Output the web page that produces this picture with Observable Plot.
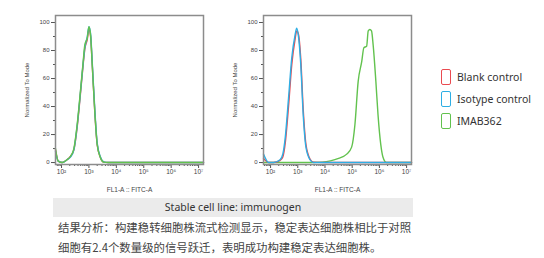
<!DOCTYPE html>
<html><head><meta charset="utf-8">
<script src="https://cdn.jsdelivr.net/npm/d3@7"></script>
<script src="https://cdn.jsdelivr.net/npm/@observablehq/plot@0.6"></script>
<style>
html,body{margin:0;padding:0;background:#fff}
body{width:544px;height:258px;position:relative;overflow:hidden;font-family:"Noto Sans",sans-serif}
.panel{position:absolute;top:0}
#p1{left:0}
#p2{left:208px}
#legend{position:absolute;left:441px;top:66px;font-family:"Noto Sans",sans-serif;font-size:10.5px;color:#333}
.item{display:flex;align-items:center;height:22px}
.box{width:8px;height:14px;border:1.5px solid;border-radius:2px;margin-right:6px;box-sizing:content-box}
#band{position:absolute;left:53px;top:198px;width:360px;height:19px;background:#ebebeb;color:#333;font-size:10.5px;line-height:19px;text-align:center;font-family:"Noto Sans",sans-serif}
#note{position:absolute;left:58px;top:218px;font-family:"Noto Sans CJK SC",sans-serif;font-size:11.4px;line-height:19.5px;color:#444;white-space:nowrap}
</style></head><body>
<div id="p1" class="panel"></div>
<div id="p2" class="panel"></div>
<div id="legend"></div>
<div id="band">Stable cell line: immunogen</div>
<div id="note">结果分析：构建稳转细胞株流式检测显示，稳定表达细胞株相比于对照<br>细胞有2.4个数量级的信号跃迁，表明成功构建稳定表达细胞株。</div>
<script>
// ---- data (x = log10 of FL1-A :: FITC-A intensity, y = % of mode) ----
const seriesNames = ["Blank control", "Isotype control", "IMAB362"];
const seriesColors = ["#ea4a50", "#2eaee4", "#62c24e"];
const xTickExps = [2, 3, 4, 5, 6, 7];
const yTickValues = [0, 20, 40, 60, 80, 100];

// Left panel: all three curves overlap
const leftX       = [1.78, 1.88, 2.03, 2.2, 2.33, 2.45, 2.57, 2.69, 2.78, 2.85, 2.94, 3.00, 3.06, 3.12, 3.22, 3.30, 3.42, 3.54, 3.7, 4.5, 5.5, 6.5, 7.18];
const leftBlank   = [9, 1, 0, 2, 4.5, 9, 25, 49, 68, 81, 88, 95, 90, 70, 34, 13, 3.5, 0.3, 0, 0, 0, 0, 0];
const leftIsotype = [8, 1, 0, 2, 4, 9, 26, 50, 69, 82, 90, 97, 92, 72, 36, 14, 4, 0.5, 0, 0, 0, 0, 0];
const leftImab    = [10, 1, 0, 2, 4.5, 10, 27, 51, 70, 84, 89, 97, 91, 70, 34, 13, 3.5, 0.3, 0, 0, 0, 0, 0];

// Right panel
const rightCtrlX     = [1.74, 1.93, 2.11, 2.35, 2.45, 2.54, 2.66, 2.78, 2.90, 2.96, 3.02, 3.11, 3.20, 3.30, 3.45, 3.57, 4.0, 5.0, 6.0, 7.18];
const rightBlank     = [3, 0, 0, 1.5, 4, 14, 40, 70, 88, 94, 92, 74, 38, 13, 2.5, 0.3, 0, 0, 0, 0];
const rightIsotype   = [6, 0, 0, 2, 6, 18, 46, 75, 91, 96, 91, 70, 34, 11, 2, 0, 0, 0, 0, 0];
const rightImabX     = [1.74, 2.5, 3.5, 3.9, 4.2, 4.5, 4.8, 4.98, 5.10, 5.22, 5.35, 5.43, 5.53, 5.59, 5.65, 5.71, 5.77, 5.87, 5.95, 6.05, 6.13, 6.26, 6.6, 7.18];
const rightImab      = [0, 0, 0, 0.3, 1.2, 3, 6, 11, 27, 58, 72, 82, 83, 94, 95, 94, 84, 58, 34, 13, 4, 0, 0, 0];

const sup = ["⁰","¹","²","³","⁴","⁵","⁶","⁷","⁸"];

function rows(xs, ys, name) { return xs.map((x, i) => ({x, y: ys[i], name})); }

function panel(xDomain, layers) {
  const minor = [];
  for (let n = 1; n <= 7; n++) for (let k = 2; k <= 9; k++) {
    const e = n + Math.log10(k);
    if (e > xDomain[0] && e < xDomain[1]) minor.push(e);
  }
  const yMinor = d3.range(0, 101, 10);
  const marks = [
    Plot.axisX({ticks: minor, tickSize: 2, tickFormat: () => "", stroke: "#555", label: null}),
    Plot.axisX({ticks: xTickExps, tickSize: 4, tickPadding: 1, tickFormat: d => "10" + sup[d], fontSize: 6.5, fill: "#444", stroke: "#555",
      label: "FL1-A :: FITC-A", labelAnchor: "center", labelOffset: 27, labelArrow: "none"}),
    Plot.axisY({ticks: yMinor, tickSize: 2, tickFormat: () => "", stroke: "#555", label: null}),
    Plot.axisY({ticks: yTickValues, tickSize: 4, tickPadding: 2, fontSize: 6, fill: "#444", stroke: "#555",
      label: "Normalized To Mode", labelAnchor: "center", labelOffset: 31, labelArrow: "none"})
  ];
  for (const L of layers) {
    marks.push(Plot.line(L.data, {x: "x", y: "y", stroke: L.color, strokeWidth: 1.4, curve: "monotone-x"}));
  }
  marks.push(Plot.frame({stroke: "#8c8c8c", strokeWidth: 1.5}));
  return Plot.plot({
    width: 215, height: 200,
    marginLeft: 55, marginRight: 12, marginTop: 15, marginBottom: 36,
    style: {fontFamily: "Liberation Sans, Arial, sans-serif", fontSize: "6px", color: "#444", background: "transparent"},
    x: {type: "linear", domain: xDomain},
    y: {domain: [-1.4, 105]},
    marks
  });
}

document.getElementById("p1").appendChild(panel([1.78, 7.18], [
  {data: rows(leftX, leftBlank, seriesNames[0]), color: seriesColors[0]},
  {data: rows(leftX, leftIsotype, seriesNames[1]), color: seriesColors[1]},
  {data: rows(leftX, leftImab, seriesNames[2]), color: seriesColors[2]}
]));
document.getElementById("p2").appendChild(panel([1.74, 7.18], [
  {data: rows(rightImabX, rightImab, seriesNames[2]), color: seriesColors[2]},
  {data: rows(rightCtrlX, rightBlank, seriesNames[0]), color: seriesColors[0]},
  {data: rows(rightCtrlX, rightIsotype, seriesNames[1]), color: seriesColors[1]}
]));

const lg = document.getElementById("legend");
seriesNames.forEach((n, i) => {
  const it = document.createElement("div"); it.className = "item";
  const b = document.createElement("div"); b.className = "box"; b.style.borderColor = seriesColors[i];
  const t = document.createElement("span"); t.textContent = n;
  it.appendChild(b); it.appendChild(t); lg.appendChild(it);
});
</script>
</body></html>
